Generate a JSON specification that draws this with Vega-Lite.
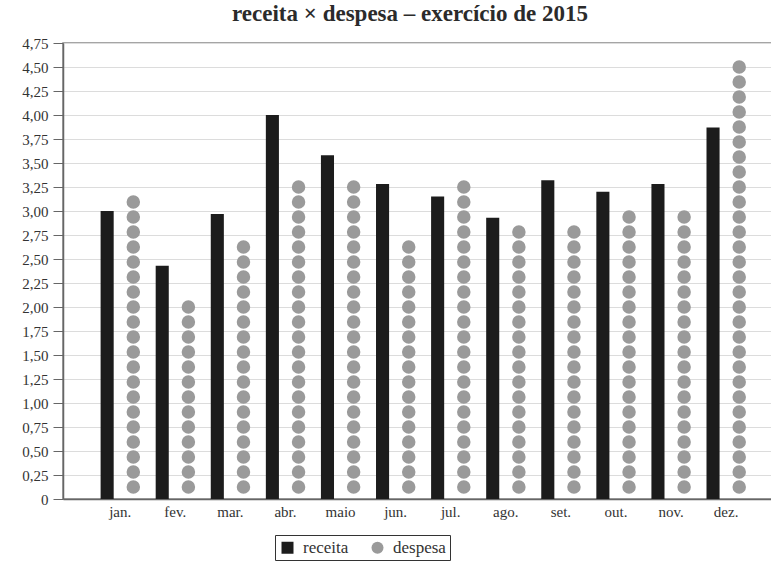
{
  "$schema": "https://vega.github.io/schema/vega-lite/v6.json",
  "autosize": {"type": "none"},
  "width": 710,
  "height": 456,
  "padding": {"left": 63, "top": 43, "right": 0, "bottom": 66},
  "background": "white",
  "title": {
    "text": "receita × despesa – exercício de 2015",
    "font": "Liberation Serif",
    "fontSize": 23,
    "fontWeight": "bold",
    "color": "#2b2b2b",
    "anchor": "middle",
    "dx": -8,
    "offset": 10
  },
  "config": {
    "view": {"stroke": "#888", "strokeWidth": 1.5}
  },
  "data": {
    "values": [
      {"mes": "jan.", "serie": "receita", "valor": 3.0},
      {"mes": "jan.", "serie": "despesa", "valor": 3.16},
      {"mes": "fev.", "serie": "receita", "valor": 2.43},
      {"mes": "fev.", "serie": "despesa", "valor": 2.06},
      {"mes": "mar.", "serie": "receita", "valor": 2.97},
      {"mes": "mar.", "serie": "despesa", "valor": 2.69},
      {"mes": "abr.", "serie": "receita", "valor": 4.0},
      {"mes": "abr.", "serie": "despesa", "valor": 3.31},
      {"mes": "maio", "serie": "receita", "valor": 3.58},
      {"mes": "maio", "serie": "despesa", "valor": 3.31},
      {"mes": "jun.", "serie": "receita", "valor": 3.28},
      {"mes": "jun.", "serie": "despesa", "valor": 2.69},
      {"mes": "jul.", "serie": "receita", "valor": 3.15},
      {"mes": "jul.", "serie": "despesa", "valor": 3.31},
      {"mes": "ago.", "serie": "receita", "valor": 2.93},
      {"mes": "ago.", "serie": "despesa", "valor": 2.84},
      {"mes": "set.", "serie": "receita", "valor": 3.32},
      {"mes": "set.", "serie": "despesa", "valor": 2.84},
      {"mes": "out.", "serie": "receita", "valor": 3.2},
      {"mes": "out.", "serie": "despesa", "valor": 3.0},
      {"mes": "nov.", "serie": "receita", "valor": 3.28},
      {"mes": "nov.", "serie": "despesa", "valor": 3.0},
      {"mes": "dez.", "serie": "receita", "valor": 3.87},
      {"mes": "dez.", "serie": "despesa", "valor": 4.56}
    ]
  },
  "encoding": {
    "x": {
      "field": "mes",
      "type": "nominal",
      "sort": ["jan.", "fev.", "mar.", "abr.", "maio", "jun.", "jul.", "ago.", "set.", "out.", "nov.", "dez."],
      "scale": {"paddingInner": 0.05, "paddingOuter": 0.47, "align": 0.6},
      "axis": {
        "title": null,
        "labelAngle": 0,
        "ticks": false,
        "domainColor": "#666",
        "domainWidth": 1.5,
        "labelPadding": 5,
        "grid": false,
        "labelFont": "Liberation Serif",
        "labelFontSize": 15,
        "labelColor": "#333"
      }
    },
    "xOffset": {
      "field": "serie",
      "type": "nominal",
      "scale": {"domain": ["receita", "despesa"], "paddingInner": 0.5, "paddingOuter": 0.25}
    },
    "color": {
      "field": "serie",
      "type": "nominal",
      "scale": {"domain": ["receita", "despesa"], "range": ["#1c1c1c", "#9a9a9a"]},
      "legend": {
        "title": null,
        "orient": "none",
        "direction": "horizontal",
        "legendX": 212,
        "legendY": 492,
        "strokeColor": "#333",
        "padding": 4,
        "labelFont": "Liberation Serif",
        "labelFontSize": 17,
        "labelColor": "#333",
        "labelOffset": 7,
        "symbolSize": 144,
        "symbolStrokeWidth": 0,
        "columnPadding": 20,
        "encode": {
          "symbols": {
            "update": {
              "shape": {"signal": "datum.value === 'receita' ? 'square' : 'circle'"},
              "opacity": {"value": 1}
            }
          }
        }
      }
    },
    "y": {
      "field": "valor",
      "type": "quantitative",
      "scale": {"domain": [0, 4.75], "nice": false},
      "axis": {
        "title": null,
        "values": [0, 0.25, 0.5, 0.75, 1, 1.25, 1.5, 1.75, 2, 2.25, 2.5, 2.75, 3, 3.25, 3.5, 3.75, 4, 4.25, 4.5, 4.75],
        "labelExpr": "datum.value === 0 ? '0' : replace(format(datum.value, '.2f'), '.', ',')",
        "tickSize": 10,
        "tickColor": "#666",
        "labelPadding": 5,
        "domainColor": "#666",
        "domainWidth": 1.5,
        "gridColor": "#dcdcdc",
        "gridWidth": 1.2,
        "labelFont": "Liberation Serif",
        "labelFontSize": 15,
        "labelColor": "#333"
      }
    }
  },
  "layer": [
    {
      "transform": [{"filter": "datum.serie === 'receita'"}],
      "mark": {"type": "bar"}
    },
    {
      "transform": [{"filter": "datum.serie === 'despesa'"}],
      "mark": {
        "type": "rule",
        "strokeWidth": 13.5,
        "strokeCap": "round",
        "strokeDash": [0, 15],
        "strokeDashOffset": {"expr": "12 - (scale('y', 0) - scale('y', datum.valor))"}
      },
      "encoding": {
        "y2": {"datum": 0}
      }
    }
  ]
}
